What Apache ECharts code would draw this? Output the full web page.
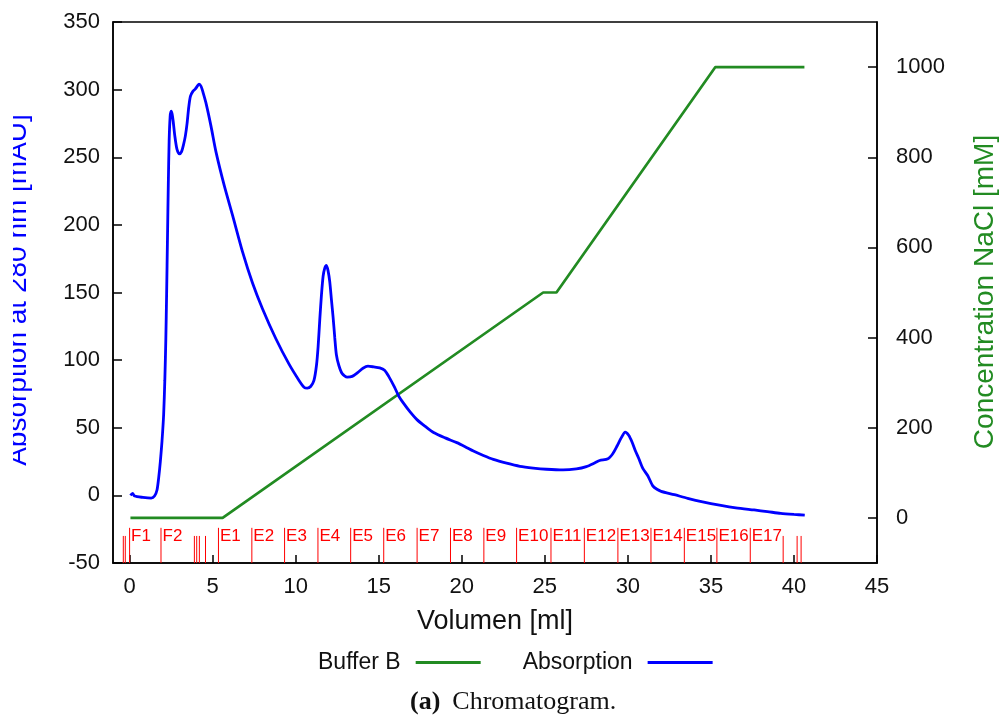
<!DOCTYPE html>
<html>
<head>
<meta charset="utf-8">
<script src="https://cdn.jsdelivr.net/npm/echarts@6/dist/echarts.min.js"></script>
<style>
  html, body { margin: 0; padding: 0; background: #fff; }
  #chart { width: 1001px; height: 718px; }
</style>
</head>
<body>
<div id="chart"></div>
<script>
// Absorption at 280 nm [mAU] vs. volume [ml]
const absorption = [
  [0.05, 0], [0.18, 1.5], [0.3, -0.5], [0.8, -1.5], [1.3, -2], [1.5, -0.5],
  [1.65, 4], [1.75, 13], [1.85, 25], [1.95, 40], [2.05, 60], [2.12, 85],
  [2.18, 115], [2.23, 150], [2.28, 190], [2.33, 230], [2.38, 262], [2.44, 280],
  [2.5, 284], [2.56, 282], [2.62, 277], [2.72, 266], [2.85, 256], [3.0, 252.5],
  [3.12, 254], [3.24, 259], [3.36, 266], [3.46, 275], [3.56, 287], [3.66, 295],
  [3.8, 298.5], [3.96, 300.5], [4.1, 303], [4.18, 304], [4.3, 302.5], [4.42, 298],
  [4.6, 290], [4.9, 273], [5.2, 254], [5.7, 229], [6.2, 207], [6.8, 180],
  [7.4, 157], [8.0, 138], [8.8, 116], [9.6, 97], [10.2, 85], [10.5, 80],
  [10.7, 79.3], [10.9, 80.5], [11.1, 85], [11.25, 96], [11.35, 110], [11.45, 130],
  [11.55, 148], [11.65, 162], [11.75, 168], [11.85, 170], [11.95, 166], [12.05, 158],
  [12.15, 145], [12.25, 132], [12.35, 117], [12.45, 104], [12.6, 96], [12.8, 90],
  [13.1, 87.5], [13.4, 88], [13.75, 91], [14.05, 94], [14.35, 95.5], [14.7, 95],
  [15.06, 94.3], [15.35, 92.5], [15.6, 88], [15.95, 80], [16.2, 73.5], [16.5, 68],
  [16.9, 61.5], [17.3, 56], [17.8, 51], [18.3, 46.5], [19.0, 42.5], [19.7, 39],
  [20.2, 36], [20.7, 32.8], [21.3, 29.5], [21.9, 26.6], [22.7, 23.8], [23.5, 21.5],
  [24.3, 20.2], [25.1, 19.3], [26.1, 18.8], [26.9, 19.6], [27.5, 21.3], [28.0, 24],
  [28.3, 25.8], [28.8, 27], [29.1, 31], [29.35, 36.5], [29.6, 42.5], [29.84, 46.8],
  [30.05, 44.5], [30.25, 39.5], [30.45, 33], [30.65, 27.5], [30.9, 20], [31.2, 14.5],
  [31.5, 7], [31.75, 4.5], [32.0, 3], [32.8, 0.5], [33.6, -2.2], [34.5, -4.8],
  [35.6, -7.4], [36.5, -9.2], [37.6, -10.8], [38.4, -12], [39.2, -13.3], [40.0, -14.1],
  [40.65, -14.6]
]

// Buffer B gradient, NaCl [mM]
const bufferB = [[0.05, 0], [5.6, 0], [24.9, 500], [25.7, 500], [35.27, 1000], [40.63, 1000]]

// fraction collector marks
const fracPos = [-0.38, -0.26, 0, 1.89, 3.9, 4.04, 4.2, 4.57,
  5.35, 7.36, 9.33, 11.34, 13.31, 15.3, 17.31, 19.32, 21.33, 23.3, 25.37,
  27.38, 29.4, 31.39, 33.4, 35.36, 37.37, 39.35, 40.19, 40.43]
const fracLabels = ['', '', 'F1', 'F2', '', '', '', '',
  'E1', 'E2', 'E3', 'E4', 'E5', 'E6', 'E7', 'E8', 'E9', 'E10', 'E11',
  'E12', 'E13', 'E14', 'E15', 'E16', 'E17', '', '', '']
const fracTopFull = -24
const fracTopShort = -30

const xTicks = [0, 5, 10, 15, 20, 25, 30, 35, 40, 45]
const y2Ticks = [0, 200, 400, 600, 800, 1000]

const FONT = '"Liberation Sans", Arial, sans-serif'
const tickLabel = { fontFamily: FONT, fontSize: 22, color: '#111' }
const plain = v => String(v)

const chart = echarts.init(document.getElementById('chart'))

chart.setOption({
  animation: false,
  backgroundColor: '#fff',
  title: {
    text: '{b|(a)}{n|Chromatogram.}',
    left: 410,
    top: 689,
    padding: 0,
    textStyle: {
      fontWeight: 'normal',
      rich: {
        b: { fontFamily: '"Liberation Serif", serif', fontWeight: 'bold', fontSize: 26, color: '#111' },
        n: { fontFamily: '"Liberation Serif", serif', fontWeight: 'normal', fontSize: 26, color: '#111', padding: [0, 0, 0, 12] }
      }
    }
  },
  legend: {
    data: ['Buffer B', 'Absorption'],
    align: 'right',
    icon: 'rect',
    left: 318,
    top: 651,
    padding: 0,
    itemWidth: 65,
    itemHeight: 3,
    itemGap: 42,
    textStyle: { fontFamily: FONT, fontSize: 23, color: '#111', padding: [0, 10, 0, 0] }
  },
  grid: {
    left: 113, right: 124, top: 22, bottom: 155,
    show: true, borderColor: '#000', borderWidth: 1.5
  },
  xAxis: {
    type: 'value', min: -1, max: 45,
    name: 'Volumen [ml]',
    nameLocation: 'middle', nameGap: 45,
    nameTextStyle: { fontFamily: FONT, fontSize: 27, color: '#111' },
    axisLine: { onZero: false, lineStyle: { color: '#000', width: 1.5 } },
    axisTick: { inside: true, length: 8, customValues: xTicks, lineStyle: { color: '#000', width: 1.5 } },
    axisLabel: Object.assign({ margin: 13, customValues: xTicks, formatter: plain }, tickLabel),
    splitLine: { show: false }
  },
  yAxis: [
    {
      type: 'value', min: -50, max: 350, interval: 50,
      axisLine: { show: true, onZero: false, lineStyle: { color: '#000', width: 1.5 } },
      axisTick: { show: true, inside: true, length: 9, lineStyle: { color: '#000', width: 1.5 } },
      axisLabel: Object.assign({ margin: 13, formatter: plain }, tickLabel),
      splitLine: { show: false }
    },
    {
      type: 'value', min: -100, max: 1100, position: 'right',
      axisLine: { show: true, onZero: false, lineStyle: { color: '#000', width: 1.5 } },
      axisTick: { show: true, inside: true, length: 9, customValues: y2Ticks, lineStyle: { color: '#000', width: 1.5 } },
      axisLabel: Object.assign({ margin: 19, customValues: y2Ticks, formatter: plain }, tickLabel),
      splitLine: { show: false }
    }
  ],
  graphic: [
    {
      type: 'text', x: 18, y: 290, rotation: Math.PI / 2, z: 10,
      style: { text: 'Absorption at 280 nm [mAU]', font: '28px ' + FONT, fill: '#0000ff', align: 'center', verticalAlign: 'middle' }
    },
    // the left title is cut off in the original figure
    { type: 'rect', shape: { x: 0, y: 0, width: 13, height: 718 }, style: { fill: '#fff' }, z: 20 },
    {
      type: 'text', x: 985, y: 292, rotation: Math.PI / 2, z: 10,
      style: { text: 'Concentration NaCl [mM]', font: '28px ' + FONT, fill: '#228b22', align: 'center', verticalAlign: 'middle' }
    }
  ],
  series: [
    {
      name: 'Buffer B',
      type: 'line',
      yAxisIndex: 1,
      data: bufferB,
      symbol: 'none',
      color: '#228b22',
      lineStyle: { color: '#228b22', width: 2.7 }
    },
    {
      name: 'Absorption',
      type: 'line',
      yAxisIndex: 0,
      data: absorption,
      symbol: 'none',
      smooth: 0.25,
      color: '#0000ff',
      lineStyle: { color: '#0000ff', width: 2.8 }
    },
    {
      name: 'Fractions',
      type: 'custom',
      yAxisIndex: 0,
      data: fracPos.map(x => [x]),
      renderItem(params, api) {
        const x = api.value(0)
        const label = fracLabels[params.dataIndex]
        const base = api.coord([x, -50])
        const top = api.coord([x, label ? fracTopFull : fracTopShort])
        const children = [{
          type: 'line',
          shape: { x1: base[0], y1: base[1], x2: top[0], y2: top[1] },
          style: { stroke: '#ff0000', lineWidth: 1 }
        }]
        if (label) {
          children.push({
            type: 'text', x: base[0] + 1.5, y: top[1] + 8.5,
            style: { text: label, fill: '#ff0000', font: '17px ' + FONT, verticalAlign: 'middle' }
          })
        }
        return { type: 'group', children }
      }
    }
  ]
})
</script>
</body>
</html>
